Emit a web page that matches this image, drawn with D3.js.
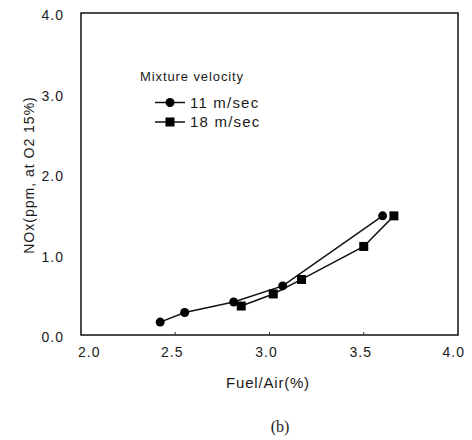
<!DOCTYPE html>
<html>
<head>
<meta charset="utf-8">
<script src="https://cdn.jsdelivr.net/npm/d3@7"></script>
<style>
  body { margin: 0; background: #fff; }
  svg { display: block; }
</style>
</head>
<body>
<svg id="chart" width="472" height="440"></svg>
<script>
// data
const fuelAir11 = [2.42, 2.55, 2.81, 3.07, 3.60];
const nox11     = [0.16, 0.28, 0.41, 0.61, 1.48];
const fuelAir18 = [2.85, 3.02, 3.17, 3.50, 3.66];
const nox18     = [0.36, 0.51, 0.69, 1.10, 1.48];
const xTicks = [2.0, 2.5, 3.0, 3.5, 4.0];
const yTicks = [0.0, 1.0, 2.0, 3.0, 4.0];
const seriesNames = ["11 m/sec", "18 m/sec"];

const svg = d3.select("#chart");
const font = "'Liberation Sans', Arial, sans-serif";
const ink = "#1a1a1a";

const x = d3.scaleLinear().domain([2, 4]).range([81, 458]);
const y = d3.scaleLinear().domain([0, 4]).range([335, 13]);

// frame
svg.append("rect")
  .attr("x", x(2)).attr("y", y(4))
  .attr("width", x(4) - x(2)).attr("height", y(0) - y(4))
  .attr("fill", "none").attr("stroke", "#111").attr("stroke-width", 1.5);

// small inner ticks on bottom
svg.selectAll(".xt").data(xTicks.slice(1, -1)).enter().append("line")
  .attr("x1", d => x(d)).attr("x2", d => x(d))
  .attr("y1", y(0)).attr("y2", y(0) - 3)
  .attr("stroke", "#333").attr("stroke-width", 1);

// tick labels
svg.selectAll(".xl").data(xTicks).enter().append("text")
  .attr("x", (d, i) => i === 0 ? x(d) - 3 : i === xTicks.length - 1 ? x(d) + 7 : x(d) - 3)
  .attr("y", 357)
  .attr("text-anchor", (d, i) => i === 0 ? "start" : i === xTicks.length - 1 ? "end" : "middle")
  .attr("font-family", font).attr("font-size", 14).attr("letter-spacing", 1)
  .attr("fill", ink)
  .text(d => d.toFixed(1));

svg.selectAll(".yl").data(yTicks).enter().append("text")
  .attr("x", 64).attr("y", d => y(d) + 7)
  .attr("text-anchor", "end")
  .attr("font-family", font).attr("font-size", 14).attr("letter-spacing", 1)
  .attr("fill", ink)
  .text(d => d.toFixed(1));

// axis titles
svg.append("text")
  .attr("x", 268).attr("y", 388)
  .attr("text-anchor", "middle")
  .attr("font-family", font).attr("font-size", 15).attr("letter-spacing", 0.8)
  .attr("fill", ink)
  .text("Fuel/Air(%)");

svg.append("text")
  .attr("transform", "translate(34,175) rotate(-90)")
  .attr("text-anchor", "middle")
  .attr("font-family", font).attr("font-size", 14).attr("letter-spacing", 1)
  .attr("fill", ink)
  .text("NOx(ppm, at O2 15%)");

svg.append("text")
  .attr("x", 280).attr("y", 432)
  .attr("text-anchor", "middle")
  .attr("font-family", "'Liberation Serif', 'Times New Roman', serif")
  .attr("font-size", 16).attr("fill", ink)
  .text("(b)");

// series
const line = d3.line().x(d => x(d[0])).y(d => y(d[1]));
const s11 = fuelAir11.map((v, i) => [v, nox11[i]]);
const s18 = fuelAir18.map((v, i) => [v, nox18[i]]);

[s11, s18].forEach(s => {
  svg.append("path").datum(s)
    .attr("d", line)
    .attr("fill", "none").attr("stroke", "#111").attr("stroke-width", 1.5);
});

svg.selectAll(".c").data(s11).enter().append("circle")
  .attr("cx", d => x(d[0])).attr("cy", d => y(d[1]))
  .attr("r", 4.5).attr("fill", "#000");

svg.selectAll(".s").data(s18).enter().append("rect")
  .attr("x", d => x(d[0]) - 4.5).attr("y", d => y(d[1]) - 4.5)
  .attr("width", 9).attr("height", 9).attr("fill", "#000");

// legend
svg.append("text")
  .attr("x", 140).attr("y", 81)
  .attr("font-family", font).attr("font-size", 13).attr("letter-spacing", 0.9)
  .attr("fill", ink)
  .text("Mixture velocity");

const legY = [102.5, 122];
seriesNames.forEach((name, i) => {
  const g = svg.append("g");
  g.append("line")
    .attr("x1", 155).attr("x2", 185)
    .attr("y1", legY[i]).attr("y2", legY[i])
    .attr("stroke", "#111").attr("stroke-width", 1.5);
  if (i === 0) {
    g.append("circle").attr("cx", 170).attr("cy", legY[i]).attr("r", 4.5).attr("fill", "#000");
  } else {
    g.append("rect").attr("x", 165.5).attr("y", legY[i] - 4.5)
      .attr("width", 9).attr("height", 9).attr("fill", "#000");
  }
  g.append("text")
    .attr("x", 190).attr("y", legY[i] + 5)
    .attr("font-family", font).attr("font-size", 15).attr("letter-spacing", 1.2)
    .attr("fill", ink)
    .text(name);
});
</script>
</body>
</html>
